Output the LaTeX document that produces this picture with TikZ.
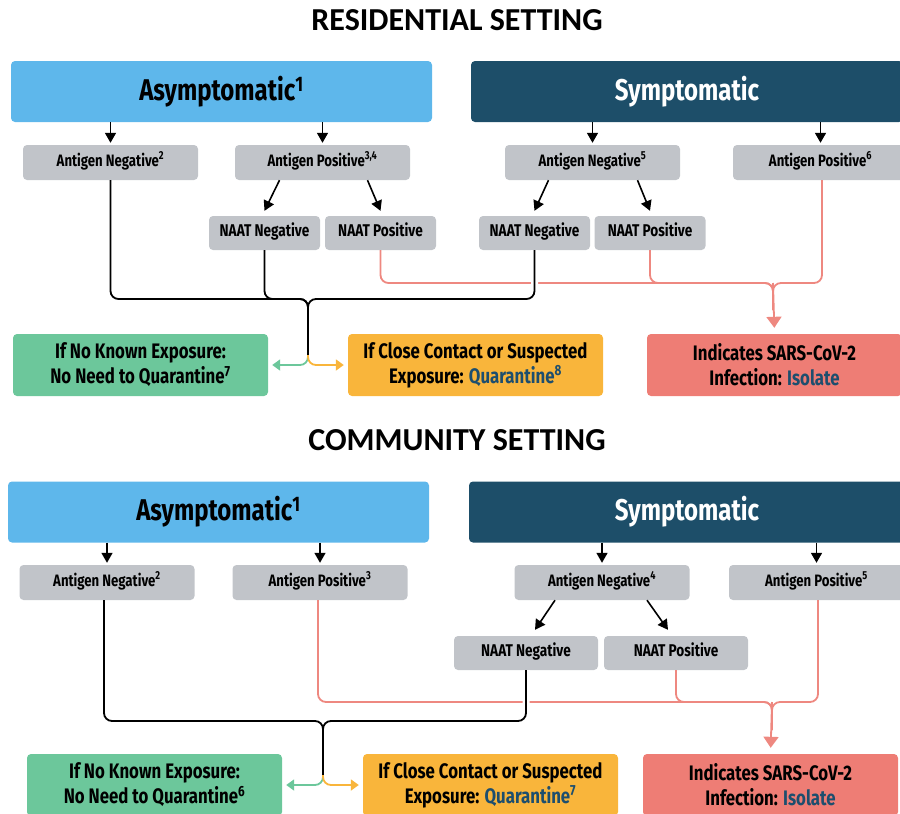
\documentclass[tikz,border=0pt]{standalone}
\usepackage{fontspec}
\newfontfamily\condf[FakeStretch=0.8]{Fira Sans}
\newfontfamily\titlef{Carlito}
\usetikzlibrary{arrows.meta}

\definecolor{asymblue}{HTML}{5EB7EB}
\definecolor{symblue}{HTML}{1D4E69}
\definecolor{testgray}{HTML}{C1C4C9}
\definecolor{nogreen}{HTML}{6CC79B}
\definecolor{qorange}{HTML}{F9B53B}
\definecolor{isored}{HTML}{EE7D75}
\definecolor{redline}{HTML}{EE8880}
\definecolor{linkblue}{HTML}{1D4E6E}

\tikzset{
	title/.style={font=\titlef\bfseries\fontsize{32}{36}\selectfont},
	head/.style={rounded corners=4pt,minimum height=61pt,inner sep=0pt,font=\condf\bfseries\fontsize{30}{34}\selectfont},
	asym/.style={head,fill=asymblue},
	sym/.style={head,fill=symblue,text=white},
	antigen/.style={rounded corners=4pt,fill=testgray,minimum width=175pt,minimum height=35pt,inner sep=0pt,text height=0.7em,text depth=0pt,font=\condf\bfseries\fontsize{16.5}{18}\selectfont},
	naat/.style={rounded corners=4pt,fill=testgray,minimum height=34pt,inner sep=0pt,text height=0.7em,text depth=0pt,font=\condf\bfseries\fontsize{17}{20}\selectfont},
	outcome/.style={rounded corners=4pt,minimum width=255pt,minimum height=62pt,inner sep=0pt,align=center,font=\condf\bfseries\fontsize{21}{25}\selectfont},
	blk/.style={-{Triangle[length=10pt,width=11pt]},line width=1.6pt},
	blkline/.style={line width=1.8pt,rounded corners=8pt},
	redpath/.style={line width=1.8pt,rounded corners=8pt,draw=redline},
	redarrow/.style={-{Triangle[length=11pt,width=15pt]},line width=1.8pt,draw=redline,shorten >=6pt},
	grnarrow/.style={-{Triangle[length=8pt,width=11pt]},line width=1.8pt,draw=nogreen,rounded corners=8pt,shorten >=4pt},
	orgarrow/.style={-{Triangle[length=8pt,width=11pt]},line width=1.8pt,draw=qorange,rounded corners=8pt,shorten >=4pt},
}

\begin{document}
\begin{tikzpicture}[x=1pt,y=-1pt]
	\useasboundingbox (0,0) rectangle (900,814);

	%titles
	\node[title] (resT) at (457,20)  {RESIDENTIAL SETTING};
	\node[title] (comT) at (457,440) {COMMUNITY SETTING};

	%residential boxes
	\node[asym,minimum width=421pt] (asymA) at (221.5,91.5) {Asymptomatic\textsuperscript{1}};
	\node[sym,minimum width=432pt]  (symA)  at (687,91.5)   {Symptomatic};
	\node[antigen] (negA)  at (110.5,162.5) {Antigen Negative\textsuperscript{2}};
	\node[antigen] (posA)  at (322.5,162.5) {Antigen Positive\textsuperscript{3,4}};
	\node[antigen] (negS)  at (592.5,162.5) {Antigen Negative\textsuperscript{5}};
	\node[antigen] (posS)  at (820.5,162.5) {Antigen Positive\textsuperscript{6}};
	\node[naat,minimum width=111pt] (naatNegA) at (264.5,233) {NAAT Negative};
	\node[naat,minimum width=111pt] (naatPosA) at (380.5,233) {NAAT Positive};
	\node[naat,minimum width=111pt] (naatNegS) at (534.5,233) {NAAT Negative};
	\node[naat,minimum width=111pt] (naatPosS) at (650,233)   {NAAT Positive};
	\node[outcome,fill=nogreen] (noqA)  at (140.5,365) {If No Known Exposure:\\No Need to Quarantine\textsuperscript{7}};
	\node[outcome,fill=qorange] (quarA) at (475.5,365) {If Close Contact or Suspected\\Exposure: \textcolor{linkblue}{Quarantine\textsuperscript{8}}};
	\node[outcome,fill=isored]  (isoA)  at (774.5,365) {Indicates SARS-CoV-2\\Infection: \textcolor{linkblue}{Isolate}};

	%residential arrows
	\draw[blk,shorten >=2pt] (asymA.south -| negA.north) -- (negA.north);
	\draw[blk,shorten >=2pt] (asymA.south -| posA.north) -- (posA.north);
	\draw[blk,shorten >=2pt] (symA.south -| negS.north)  -- (negS.north);
	\draw[blk,shorten >=2pt] (symA.south -| posS.north)  -- (posS.north);
	\draw[blk] ([xshift=-43pt]posA.south) -- ([yshift=5pt]naatNegA.north);	%pos--NAAT neg
	\draw[blk] ([xshift=45pt]posA.south)  -- ([yshift=5pt]naatPosA.north);	%pos--NAAT pos
	\draw[blk] ([xshift=-44pt]negS.south) -- ([yshift=5pt]naatNegS.north);
	\draw[blk] ([xshift=45pt]negS.south)  -- ([yshift=5pt]naatPosS.north);

	%residential connectors
	\coordinate (rA)  at (773,283);
	\coordinate (rAe) at (773,310);
	\coordinate (jA)  at (308,299);
	\coordinate (jAs) at (308,355);
	\draw[redpath] (naatPosA.south) |- (rA) -- (rAe);
	\draw[redpath] (naatPosS.south) |- (rA) -- (rAe);
	\draw[redpath] (posS.south -| 822,0) |- (rA) -- (rAe);
	\draw[redarrow] (rA) -- (isoA.north);
	\draw[blkline,preaction={draw=white,line width=7pt}] (naatNegS.south) |- (jA) -- (jAs);
	\draw[blkline] (negA.south) |- (jA) -- (jAs);
	\draw[blkline] (naatNegA.south) |- (jA) -- (jAs);
	\draw[grnarrow] (jAs) |- (noqA.east);
	\draw[orgarrow] (jAs) |- (quarA.west);

	%community boxes
	\node[asym,minimum width=421pt] (asymB) at (218.5,512) {Asymptomatic\textsuperscript{1}};
	\node[sym,minimum width=436pt]  (symB)  at (687,512)   {Symptomatic};
	\node[antigen] (negB)  at (107,582.5)   {Antigen Negative\textsuperscript{2}};
	\node[antigen] (posB)  at (320,582.5)   {Antigen Positive\textsuperscript{3}};
	\node[antigen] (negSB) at (602,582.5)   {Antigen Negative\textsuperscript{4}};
	\node[antigen] (posSB) at (816.5,582.5) {Antigen Positive\textsuperscript{5}};
	\node[naat,minimum width=144pt] (naatNegB) at (526,653) {NAAT Negative};
	\node[naat,minimum width=144pt] (naatPosB) at (676,653) {NAAT Positive};
	\node[outcome,fill=nogreen] (noqB)  at (154.5,785) {If No Known Exposure:\\No Need to Quarantine\textsuperscript{6}};
	\node[outcome,fill=qorange] (quarB) at (490.5,785) {If Close Contact or Suspected\\Exposure: \textcolor{linkblue}{Quarantine\textsuperscript{7}}};
	\node[outcome,fill=isored]  (isoB)  at (770.5,785) {Indicates SARS-CoV-2\\Infection: \textcolor{linkblue}{Isolate}};

	%community arrows
	\draw[blk,shorten >=2pt] (asymB.south -| negB.north)  -- (negB.north);
	\draw[blk,shorten >=2pt] (asymB.south -| posB.north)  -- (posB.north);
	\draw[blk,shorten >=2pt] (symB.south -| negSB.north)  -- (negSB.north);
	\draw[blk,shorten >=2pt] (symB.south -| posSB.north)  -- (posSB.north);
	\draw[blk] ([xshift=-47pt]negSB.south) -- ([xshift=9pt,yshift=6pt]naatNegB.north);
	\draw[blk] ([xshift=45pt]negSB.south)  -- ([xshift=-8pt,yshift=6pt]naatPosB.north);

	%community connectors
	\coordinate (rB)  at (772,702);
	\coordinate (rBe) at (772,730);
	\coordinate (jB)  at (323,721);
	\coordinate (jBs) at (323,775);
	\draw[redpath] (posB.south -| 318,0) |- (rB) -- (rBe);
	\draw[redpath] (naatPosB.south) |- (rB) -- (rBe);
	\draw[redpath] (posSB.south -| 818,0) |- (rB) -- (rBe);
	\draw[redarrow] (rB) -- (isoB.north);
	\draw[blkline,preaction={draw=white,line width=7pt}] (naatNegB.south) |- (jB) -- (jBs);
	\draw[blkline] (negB.south -| 104,0) |- (jB) -- (jBs);
	\draw[grnarrow] (jBs) |- (noqB.east);
	\draw[orgarrow] (jBs) |- (quarB.west);
\end{tikzpicture}
\end{document}
